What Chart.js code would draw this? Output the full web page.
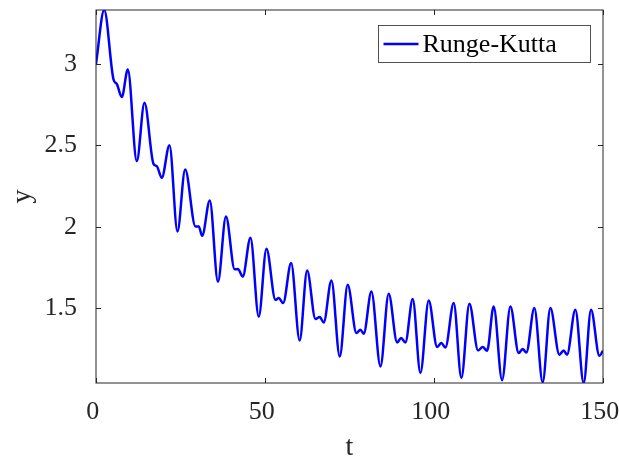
<!DOCTYPE html>
<html>
<head>
<meta charset="utf-8">
<script src="https://cdn.jsdelivr.net/npm/chart.js@4"></script>
<style>
    html, body { margin: 0; padding: 0; background: #fff; }
    #wrap { width: 619px; height: 460px; }
</style>
</head>
<body>
<div id="wrap"><canvas id="rkChart"></canvas></div>
<script>
// values (peaks, troughs, shoulders)
const tValues = [0, 2.43, 5.18, 6.15, 7.63, 9.41, 12.07, 14.34, 17.01, 17.98, 19.46, 21.74, 24.10, 26.38,
    29.43, 30.41, 31.41, 33.66, 36.08, 38.45, 41.02, 42.00, 43.42, 45.70, 48.15, 50.43, 53.09, 54.07,
    55.37, 57.73, 60.25, 62.47, 64.92, 66.19, 67.38, 69.65, 72.11, 74.47, 77.05, 78.23, 79.21, 81.48,
    84.15, 86.60, 89.09, 90.27, 91.54, 93.70, 95.98, 98.43, 100.92, 102.19, 103.37, 105.83, 108.10,
    110.47, 113.04, 114.40, 115.70, 117.66, 120.14, 122.60, 125.05, 126.23, 127.33, 129.69, 132.15,
    134.43, 137.09, 138.36, 139.36, 141.82, 144.28, 146.46, 148.92, 150];
const yValues = [3.000, 3.331, 2.904, 2.877, 2.796, 2.965, 2.403, 2.761, 2.386, 2.372, 2.300, 2.501, 1.971, 2.351,
    2.001, 2.001, 1.944, 2.161, 1.662, 2.063, 1.738, 1.740, 1.694, 1.932, 1.447, 1.864, 1.551, 1.562,
    1.531, 1.777, 1.301, 1.731, 1.433, 1.445, 1.412, 1.670, 1.203, 1.643, 1.347, 1.367, 1.343, 1.602,
    1.142, 1.588, 1.289, 1.316, 1.289, 1.556, 1.101, 1.547, 1.261, 1.285, 1.258, 1.531, 1.071,
    1.527, 1.240, 1.261, 1.238, 1.510, 1.057, 1.510, 1.224, 1.249, 1.228, 1.500, 1.044,
    1.500, 1.214, 1.240, 1.214, 1.490, 1.040, 1.490, 1.208, 1.238];
const xTicks = [0, 50, 100, 150];
const yTicks = [1.5, 2, 2.5, 3];
const seriesLabel = 'Runge-Kutta';

const serif = '"Liberation Serif", "DejaVu Serif", serif';
const axisColor = '#262626';

// MATLAB style box with inward ticks, plus the boxed legend
const boxPlugin = {
    id: 'boxPlugin',
    afterDraw(chart) {
        const {ctx, chartArea: a, scales} = chart;
        ctx.save();
        ctx.strokeStyle = axisColor;
        ctx.lineWidth = 1;
        ctx.strokeRect(a.left, a.top, a.right - a.left, a.bottom - a.top);
        ctx.beginPath();
        xTicks.forEach(v => {
            const px = Math.round(scales.x.getPixelForValue(v)) + 0.5;
            ctx.moveTo(px, a.bottom); ctx.lineTo(px, a.bottom - 5);
            ctx.moveTo(px, a.top); ctx.lineTo(px, a.top + 5);
        });
        yTicks.forEach(v => {
            const py = Math.round(scales.y.getPixelForValue(v)) + 0.5;
            ctx.moveTo(a.left, py); ctx.lineTo(a.left + 5, py);
            ctx.moveTo(a.right, py); ctx.lineTo(a.right - 5, py);
        });
        ctx.stroke();

        const ds = chart.data.datasets[0];
        const bx = a.right - 224.5, by = a.top + 15.5, bw = 212, bh = 37;
        ctx.fillStyle = '#fff';
        ctx.fillRect(bx, by, bw, bh);
        ctx.strokeStyle = axisColor;
        ctx.lineWidth = 0.8;
        ctx.strokeRect(bx, by, bw, bh);
        ctx.strokeStyle = ds.borderColor;
        ctx.lineWidth = ds.borderWidth;
        ctx.beginPath();
        ctx.moveTo(bx + 5, by + bh / 2);
        ctx.lineTo(bx + 40, by + bh / 2);
        ctx.stroke();
        ctx.fillStyle = '#000';
        ctx.font = '26px ' + serif;
        ctx.textBaseline = 'middle';
        ctx.fillText(ds.label, bx + 44, by + bh / 2 + 1);
        ctx.restore();
    }
};

let ctx = document.getElementById('rkChart').getContext('2d');
let rkChart = new Chart(ctx, {
    type: 'line',
    data: {
        datasets: [{
            label: seriesLabel,
            data: tValues.map((t, i) => ({x: t, y: yValues[i]})),
            borderColor: '#0000ff',
            borderWidth: 2.5,
            pointRadius: 0,
            fill: false,
            cubicInterpolationMode: 'monotone'
        }]
    },
    options: {
        responsive: true,
        maintainAspectRatio: false,
        animation: false,
        devicePixelRatio: 1,
        layout: { padding: { left: 0, right: 16, top: 10, bottom: 0 } },
        plugins: {
            legend: { display: false },
            tooltip: { enabled: false }
        },
        scales: {
            x: {
                type: 'linear',
                min: 0,
                max: 150,
                grid: { display: false },
                border: { display: false },
                afterBuildTicks: s => { s.ticks = xTicks.map(v => ({value: v})); },
                afterFit: s => { s.height = 77; s.paddingLeft = 0; s.paddingRight = 0; },
                ticks: {
                    color: axisColor,
                    padding: 6,
                    maxRotation: 0,
                    font: { family: serif, size: 26 },
                    callback: v => v + ' '
                },
                title: {
                    display: true,
                    text: 't',
                    color: axisColor,
                    padding: 0,
                    font: { family: serif, size: 28, lineHeight: 0.85 }
                }
            },
            y: {
                type: 'linear',
                min: 1.04,
                max: 3.331,
                grid: { display: false },
                border: { display: false },
                afterBuildTicks: s => { s.ticks = yTicks.map(v => ({value: v})); },
                afterFit: s => { s.width = 96; s.paddingTop = 0; s.paddingBottom = 0; },
                ticks: {
                    color: axisColor,
                    padding: 11,
                    font: { family: serif, size: 26 },
                    callback: v => String(v)
                },
                title: {
                    display: true,
                    text: 'y',
                    color: axisColor,
                    padding: { top: 6, bottom: 0 },
                    font: { family: serif, size: 28 }
                }
            }
        }
    },
    plugins: [boxPlugin]
});
</script>
</body>
</html>
